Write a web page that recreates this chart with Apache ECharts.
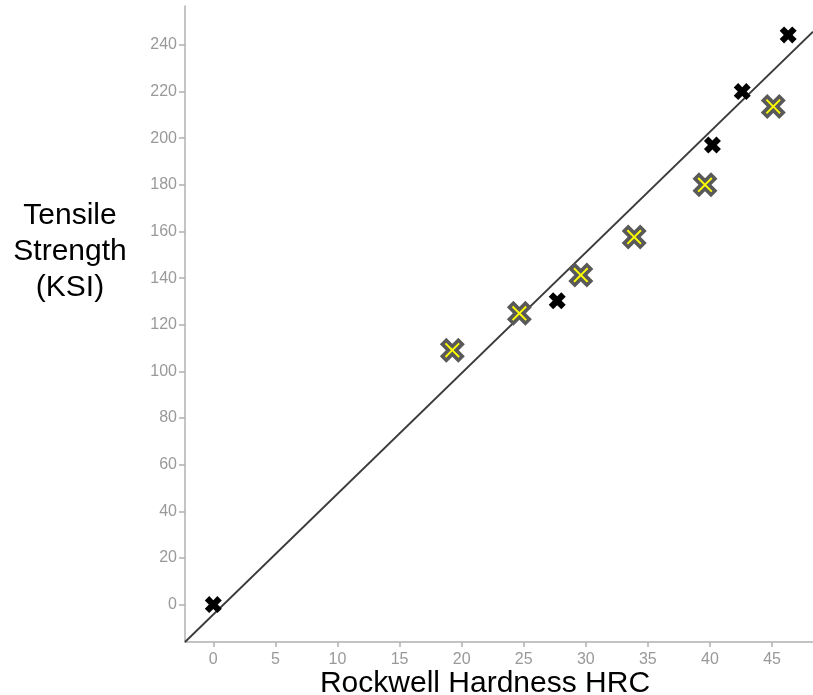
<!DOCTYPE html>
<html>
<head>
<meta charset="utf-8">
<script src="https://cdn.jsdelivr.net/npm/echarts@6/dist/echarts.min.js"></script>
<style>html,body{margin:0;padding:0;background:#fff}#c{width:813px;height:695px}</style>
</head>
<body>
<div id="c"></div>
<script>
// Data
var blackPoints = [[0, 0], [27.7, 130.3], [40.2, 197.1], [42.6, 220.0], [46.3, 244.3]];
var yellowPoints = [[19.25, 109.1], [24.65, 124.9], [29.6, 141.3], [33.9, 157.6], [39.6, 180.0], [45.1, 213.6]];
var trendX = [-2.28, 48.3];
var trendY = [-16.05, 245.7];
var xTicks = [0, 5, 10, 15, 20, 25, 30, 35, 40, 45];
var yTicks = [0, 20, 40, 60, 80, 100, 120, 140, 160, 180, 200, 220, 240];
var xTitle = 'Rockwell Hardness HRC';
var yTitle = 'Tensile\nStrength\n(KSI)';

var trendData = trendX.map(function (x, i) { return [x, trendY[i]]; });

function crossPath(a) {
  var b = 10 - a;
  return 'path://M0,' + a + 'L' + a + ',0L5,' + (5 - a) + 'L' + b + ',0L10,' + a +
    'L' + (5 + a) + ',5L10,' + b + 'L' + b + ',10L5,' + (5 + a) + 'L' + a + ',10L0,' + b +
    'L' + (5 - a) + ',5Z';
}
var thick = crossPath(2.6);
var thin = crossPath(0.9);

var axisFont = { color: '#999', fontSize: 16, fontFamily: 'Liberation Sans' };

var chart = echarts.init(document.getElementById('c'), null, { renderer: 'canvas' });
chart.setOption({
  animation: false,
  backgroundColor: '#fff',
  grid: { left: 185, right: 0, top: 6, bottom: 53, containLabel: false, outerBoundsMode: 'none' },
  xAxis: {
    type: 'value', min: -2.28, max: 48.3,
    name: xTitle, nameLocation: 'middle', nameGap: 27, nameMoveOverlap: false,
    nameTextStyle: { color: '#000', fontSize: 30, lineHeight: 30, fontFamily: 'Liberation Sans', padding: [0, 28, 0, 0] },
    axisLine: { show: true, onZero: false, lineStyle: { color: '#b0b0b0', width: 1.5 } },
    axisTick: { show: true, length: 5, customValues: xTicks, lineStyle: { color: '#b0b0b0', width: 1.5 } },
    axisLabel: Object.assign({ margin: 10, customValues: xTicks }, axisFont),
    splitLine: { show: false }
  },
  yAxis: {
    type: 'value', min: -16.05, max: 256.7,
    name: yTitle + '\n\n\n\n', nameLocation: 'middle', nameGap: 115, nameRotate: 0,
    nameTextStyle: { color: '#000', fontSize: 30, lineHeight: 36, fontFamily: 'Liberation Sans', align: 'center', verticalAlign: 'middle' },
    axisLine: { show: true, onZero: false, lineStyle: { color: '#b0b0b0', width: 1.5 } },
    axisTick: { show: true, length: 6, customValues: yTicks, lineStyle: { color: '#b0b0b0', width: 1.5 } },
    axisLabel: Object.assign({ margin: 8, customValues: yTicks }, axisFont),
    splitLine: { show: false }
  },
  series: [
    {
      type: 'line', data: trendData, symbol: 'none', clip: true,
      lineStyle: { color: '#3a3a3a', width: 1.8 }, z: 1
    },
    {
      type: 'scatter', data: yellowPoints, symbol: thick, symbolSize: 25,
      itemStyle: { color: '#595959', opacity: 1 }, z: 2
    },
    {
      type: 'scatter', data: yellowPoints, symbol: thin, symbolSize: 15,
      itemStyle: { color: '#ffff00', opacity: 1 }, z: 3
    },
    {
      type: 'scatter', data: blackPoints, symbol: thick, symbolSize: 17,
      itemStyle: { color: '#000', opacity: 1 }, z: 4
    }
  ]
});
</script>
</body>
</html>
